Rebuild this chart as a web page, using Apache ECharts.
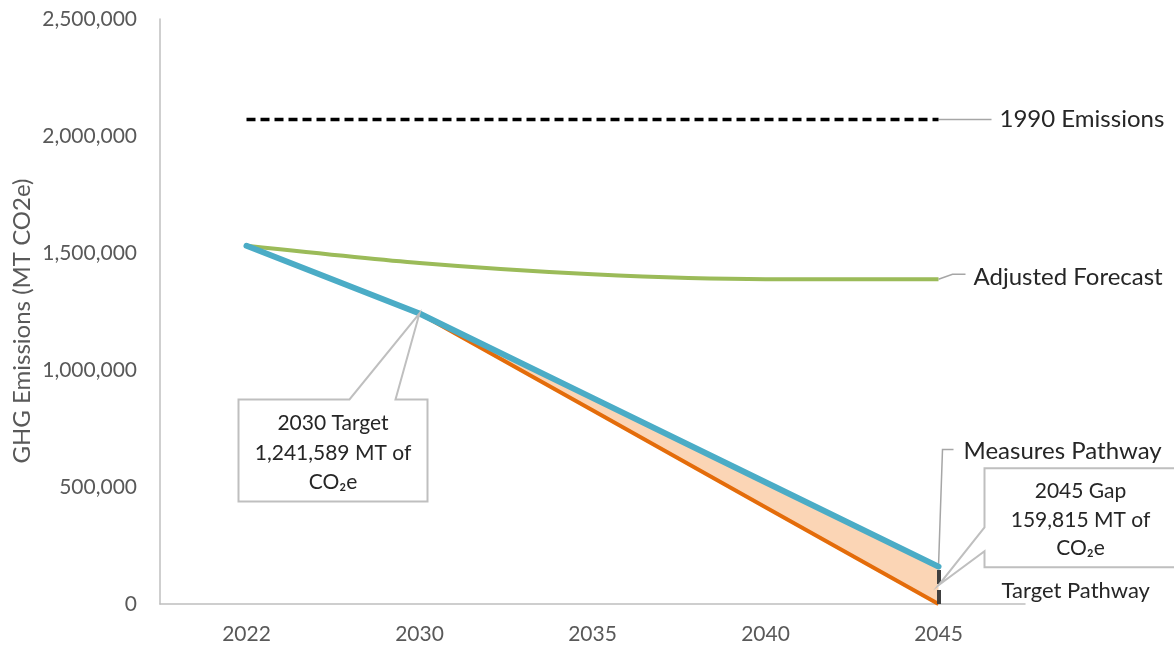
<!DOCTYPE html>
<html>
<head>
<meta charset="utf-8">
<script src="https://cdn.jsdelivr.net/npm/echarts@6/dist/echarts.min.js"></script>
<style>
html,body{margin:0;padding:0;background:#fff;}
#chart{width:1174px;height:646px;}
</style>
</head>
<body>
<div id="chart"></div>
<script>
const categories = ['2022', '2030', '2035', '2040', '2045'];
const emissions1990 = [2070000, 2070000, 2070000, 2070000, 2070000];
const adjustedForecast = [1531000, 1457000, 1409000, 1388000, 1388000];
const measuresPathway = [1531000, 1241589, 880998, 520407, 159815];
const targetPathway = [1531000, 1241589, 827726, 413863, 0];
const yTicks = [0, 500000, 1000000, 1500000, 2000000, 2500000];
const yTitle = 'GHG Emissions (MT CO2e)';

const FONT = 'Lato';
const gapValues = measuresPathway.map((v, i) => v - targetPathway[i]);

const chart = echarts.init(document.getElementById('chart'), null, {renderer: 'canvas'});
chart.setOption({
  animation: false,
  backgroundColor: '#ffffff',
  grid: {left: 160, right: 149, top: 19, bottom: 42},
  xAxis: {
    type: 'category',
    data: categories,
    boundaryGap: true,
    axisLine: {lineStyle: {color: '#bfbfbf', width: 1.5}},
    axisTick: {show: false},
    axisLabel: {color: '#595959', fontFamily: FONT, fontSize: 21, margin: 20}
  },
  yAxis: {
    type: 'value',
    min: yTicks[0],
    max: yTicks[yTicks.length - 1],
    interval: 500000,
    axisLine: {show: true, lineStyle: {color: '#bfbfbf', width: 1.5}},
    axisTick: {show: false},
    splitLine: {show: false},
    axisLabel: {
      color: '#595959', fontFamily: FONT, fontSize: 21, margin: 23,
      formatter: v => v.toLocaleString('en-US')
    }
  },
  series: [
    {
      name: 'base', type: 'line', stack: 'gap', data: targetPathway,
      symbol: 'none', lineStyle: {opacity: 0}, silent: true, z: 1
    },
    {
      name: 'gapFill', type: 'line', stack: 'gap', data: gapValues,
      symbol: 'none', lineStyle: {opacity: 0},
      areaStyle: {color: '#fbd5b5', opacity: 1}, silent: true, z: 1
    },
    {
      name: 'Target Pathway', type: 'line', data: targetPathway,
      symbol: 'none', lineStyle: {color: '#e46c0a', width: 4}, z: 3
    },
    {
      name: 'Measures Pathway', type: 'line', data: measuresPathway,
      symbol: 'none', lineStyle: {color: '#4bacc6', width: 6, cap: 'round'}, z: 5,
      markLine: {
        silent: true, symbol: 'none', label: {show: false},
        lineStyle: {color: '#404040', width: 4, type: [14, 6]},
        data: [[{xAxis: categories[4], yAxis: 0}, {xAxis: categories[4], yAxis: measuresPathway[4]}]]
      }
    },
    {
      name: 'Adjusted Forecast', type: 'line', data: adjustedForecast, smooth: 0.25,
      symbol: 'none', lineStyle: {color: '#9bbb59', width: 4}, z: 4
    },
    {
      name: '1990 Emissions', type: 'line', data: emissions1990,
      symbol: 'none', lineStyle: {color: '#000000', width: 3.5, type: [9, 5]}, z: 6
    }
  ]
});

function px(i, v) { return chart.convertToPixel({gridIndex: 0}, [i, v]); }
const GRAY = '#bfbfbf';
const TXT = '#262626';
const g = [];

// Y axis title
g.push({type: 'text', x: 22, y: 321, rotation: Math.PI / 2,
  style: {text: yTitle, font: '24px ' + FONT, fill: '#595959', textAlign: 'center', textVerticalAlign: 'middle'}});

// 1990 Emissions label
let a = px(4, emissions1990[4]);
g.push({type: 'polyline', shape: {points: [[a[0], a[1]], [a[0] + 53, a[1]]]}, style: {stroke: '#a6a6a6', lineWidth: 1.5, fill: null}});
g.push({type: 'text', x: a[0] + 61, y: a[1], style: {text: '1990 Emissions', font: '24px ' + FONT, fill: TXT, textAlign: 'left', textVerticalAlign: 'middle'}});

// Adjusted Forecast label
a = px(4, adjustedForecast[4]);
g.push({type: 'polyline', shape: {points: [[a[0], a[1]], [a[0] + 14, a[1] - 5], [a[0] + 27, a[1] - 5]]}, style: {stroke: '#a6a6a6', lineWidth: 1.5, fill: null}});
g.push({type: 'text', x: a[0] + 35, y: a[1] - 2, style: {text: 'Adjusted Forecast', font: '24px ' + FONT, fill: TXT, textAlign: 'left', textVerticalAlign: 'middle'}});

// Measures Pathway label
a = px(4, measuresPathway[4]);
g.push({type: 'polyline', shape: {points: [[a[0], a[1]], [a[0] + 4, a[1] - 117], [a[0] + 15, a[1] - 117]]}, style: {stroke: '#a6a6a6', lineWidth: 1.5, fill: null}});
g.push({type: 'text', x: a[0] + 25, y: a[1] - 115, style: {text: 'Measures Pathway', font: '24px ' + FONT, fill: TXT, textAlign: 'left', textVerticalAlign: 'middle'}});

// Target Pathway label
a = px(4, targetPathway[4]);
g.push({type: 'text', x: a[0] + 63, y: a[1] - 13, style: {text: 'Target Pathway', font: '22px ' + FONT, fill: TXT, textAlign: 'left', textVerticalAlign: 'middle'}});

// 2030 callout
a = px(1, targetPathway[1]);
{
  const L = a[0] - 181, R = a[0] + 8, T = a[1] + 86, B = a[1] + 188;
  g.push({type: 'polygon', z: 10, shape: {points: [[L, T], [a[0] - 70, T], [a[0], a[1]], [a[0] - 24, T], [R, T], [R, B], [L, B]]},
    style: {fill: '#ffffff', stroke: GRAY, lineWidth: 2}});
  const cx = (L + R) / 2;
  ['2030 Target', '1,241,589 MT of', 'CO\u2082e'].forEach((t, k) => {
    g.push({type: 'text', z: 11, x: cx, y: a[1] + 110 + k * 29.5, style: {text: t, font: '21px ' + FONT, fill: TXT, textAlign: 'center', textVerticalAlign: 'middle'}});
  });
}

// 2045 gap callout
a = px(4, measuresPathway[4] / 2);
{
  const L = a[0] + 46, R = a[0] + 260, T = a[1] - 117, B = a[1] - 18;
  g.push({type: 'polygon', z: 10, shape: {points: [[L, T], [R, T], [R, B], [L, B], [L, a[1] - 34], [a[0], a[1]], [L, a[1] - 58]]},
    style: {fill: '#ffffff', stroke: GRAY, lineWidth: 2}});
  const cx = L + 96;
  ['2045 Gap', '159,815 MT of', 'CO\u2082e'].forEach((t, k) => {
    g.push({type: 'text', z: 11, x: cx, y: a[1] - 94 + k * 28.5, style: {text: t, font: '21px ' + FONT, fill: TXT, textAlign: 'center', textVerticalAlign: 'middle'}});
  });
}

chart.setOption({graphic: {elements: g}});
</script>
</body>
</html>
